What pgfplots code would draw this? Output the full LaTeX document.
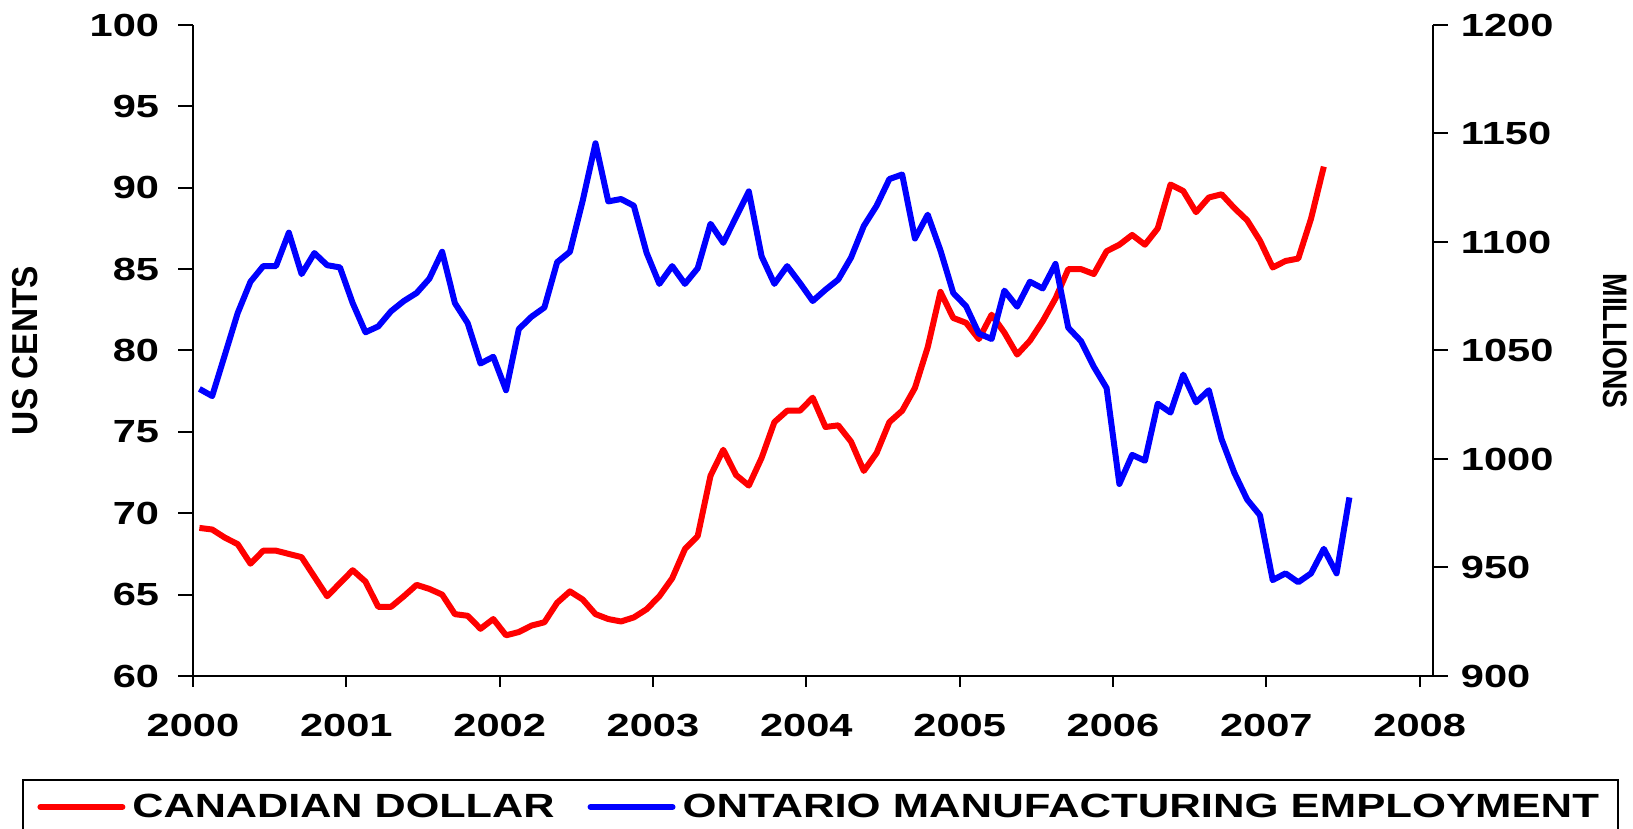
\documentclass[border=0pt]{standalone}
\usepackage{fontspec}
\setmainfont{Liberation Sans}
\usepackage{graphicx}
\usepackage{pgfplots}
\pgfplotsset{compat=1.18}
\usepackage{pgfplotstable}

% Canadian dollar, US cents, monthly from Jan 2000 (m = month index)
\pgfplotstableread{
m v
0 69.1
1 69.0
2 68.5
3 68.1
4 66.9
5 67.7
6 67.7
7 67.5
8 67.3
9 66.1
10 64.9
11 65.7
12 66.5
13 65.8
14 64.25
15 64.25
16 64.9
17 65.6
18 65.35
19 65.0
20 63.8
21 63.7
22 62.9
23 63.5
24 62.5
25 62.7
26 63.1
27 63.3
28 64.5
29 65.2
30 64.7
31 63.8
32 63.5
33 63.35
34 63.6
35 64.1
36 64.9
37 66.0
38 67.8
39 68.6
40 72.3
41 73.9
42 72.35
43 71.7
44 73.4
45 75.6
46 76.3
47 76.3
48 77.1
49 75.3
50 75.4
51 74.4
52 72.6
53 73.7
54 75.6
55 76.3
56 77.7
57 80.2
58 83.6
59 82.0
60 81.7
61 80.7
62 82.2
63 81.1
64 79.75
65 80.6
66 81.8
67 83.2
68 85.0
69 85.0
70 84.7
71 86.1
72 86.5
73 87.1
74 86.5
75 87.5
76 90.2
77 89.8
78 88.5
79 89.4
80 89.6
81 88.75
82 88.0
83 86.75
84 85.1
85 85.5
86 85.65
87 88.1
88 91.3
}\cad

% Ontario manufacturing employment, monthly from Jan 2000
\pgfplotstableread{
m v
0 1032.3
1 1029.0
2 1048.1
3 1067.3
4 1081.7
5 1088.9
6 1088.9
7 1104.3
8 1085.2
9 1094.9
10 1089.3
11 1088.3
12 1071.8
13 1058.4
14 1061.1
15 1068.1
16 1072.8
17 1076.5
18 1083.1
19 1095.5
20 1071.8
21 1062.6
22 1044.0
23 1047.1
24 1031.7
25 1059.9
26 1065.6
27 1069.8
28 1090.7
29 1095.5
30 1119.1
31 1145.5
32 1118.7
33 1119.8
34 1116.7
35 1095.0
36 1080.7
37 1088.9
38 1080.7
39 1087.9
40 1108.4
41 1099.6
42 1111.5
43 1123.3
44 1093.4
45 1080.7
46 1088.9
47 1081.1
48 1072.8
49 1078.0
50 1082.7
51 1092.8
52 1107.4
53 1116.7
54 1129.0
55 1131.1
56 1101.6
57 1112.6
58 1096.1
59 1076.5
60 1070.4
61 1057.8
62 1055.3
63 1077.6
64 1070.2
65 1081.7
66 1078.6
67 1089.9
68 1060.5
69 1054.3
70 1042.5
71 1032.7
72 988.5
73 1001.9
74 999.2
75 1025.5
76 1021.4
77 1038.9
78 1026.1
79 1031.7
80 1009.1
81 993.6
82 981.3
83 974.1
84 944.2
85 947.3
86 943.2
87 947.3
88 958.6
89 947.3
90 982.3
}\ont

\newcommand{\wide}[1]{\scalebox{1.3}[1]{#1}}

\pgfplotsset{
  chart/.style={
    scale only axis, width=620pt, height=325.5pt,
    at={(96.5pt,76.5pt)}, anchor=south west,
    xmin=2000, xmax=2008.087,
    axis line style={-, line width=1pt},
    tick align=outside,
    tick style={black, line width=1pt},
    /pgf/number format/1000 sep={},
    /pgf/number format/assume math mode=true,
    tick label style={font=\bfseries\fontsize{16}{16}\selectfont, inner sep=0pt},
    ytick style={/pgfplots/major tick length=7.5pt},
    xtick style={/pgfplots/major tick length=5.5pt},
    yticklabel={\wide{\pgfmathprintnumber{\tick}}},
  },
}

\begin{document}
\begin{tikzpicture}
\begin{axis}[chart,
    axis x line*=bottom, axis y line*=left,
    ymin=60, ymax=100, ytick={60,65,...,100},
    xtick={2000,2001,...,2008},
    xticklabel={\wide{\pgfmathprintnumber{\tick}}},
    xticklabel style={anchor=north, yshift=-14.5pt},
    yticklabel style={anchor=east, xshift=-12.5pt},
    every axis y label/.style={at={(axis description cs:-0.1355,0.5)}, anchor=center, rotate=90},
    ylabel={\scalebox{0.93}[1]{\bfseries\fontsize{18}{18}\selectfont US CENTS}},
    legend columns=2,
    legend image code/.code={\draw[#1, line cap=round] (1.5pt,0pt) -- (42.5pt,0pt);},
    legend style={at={(axis description cs:-0.1258,-0.2012)}, anchor=west,
      draw=none, fill=none, inner sep=0pt, nodes={inner sep=0pt},
      font=\bfseries\fontsize{16.8}{16.8}\selectfont,
      /tikz/every odd column/.append style={column sep=3.5pt},
      /tikz/every even column/.append style={column sep=16.5pt}},
  ]
  \addplot[red, line width=3pt, line join=round] table[x expr={2000+(\thisrow{m}+0.5)/12}, y=v] {\cad};
  \addlegendentry{\scalebox{1.285}[1]{CANADIAN DOLLAR}}
  \addlegendimage{blue, line width=3pt}
  \addlegendentry{\wide{ONTARIO MANUFACTURING EMPLOYMENT}}
\end{axis}
\begin{axis}[chart,
    axis x line=none, axis y line*=right,
    ymin=900, ymax=1200, ytick={900,950,...,1200},
    yticklabel style={anchor=west, xshift=9.5pt},
    every axis y label/.style={at={(axis description cs:1.1468,0.5146)}, anchor=center, rotate=-90},
    ylabel={\scalebox{0.83}[1]{\bfseries\fontsize{17}{17}\selectfont MILLIONS}},
  ]
  \addplot[blue, line width=3pt, line join=round] table[x expr={2000+(\thisrow{m}+0.5)/12}, y=v] {\ont};
\end{axis}
\draw[line width=1pt] (11.5pt,0pt) -- (11.5pt,24.5pt) -- (809pt,24.5pt) -- (809pt,0pt);
\pgfresetboundingbox
\path[use as bounding box] (0,0) rectangle (816.5pt,414.5pt);
\end{tikzpicture}
\end{document}
